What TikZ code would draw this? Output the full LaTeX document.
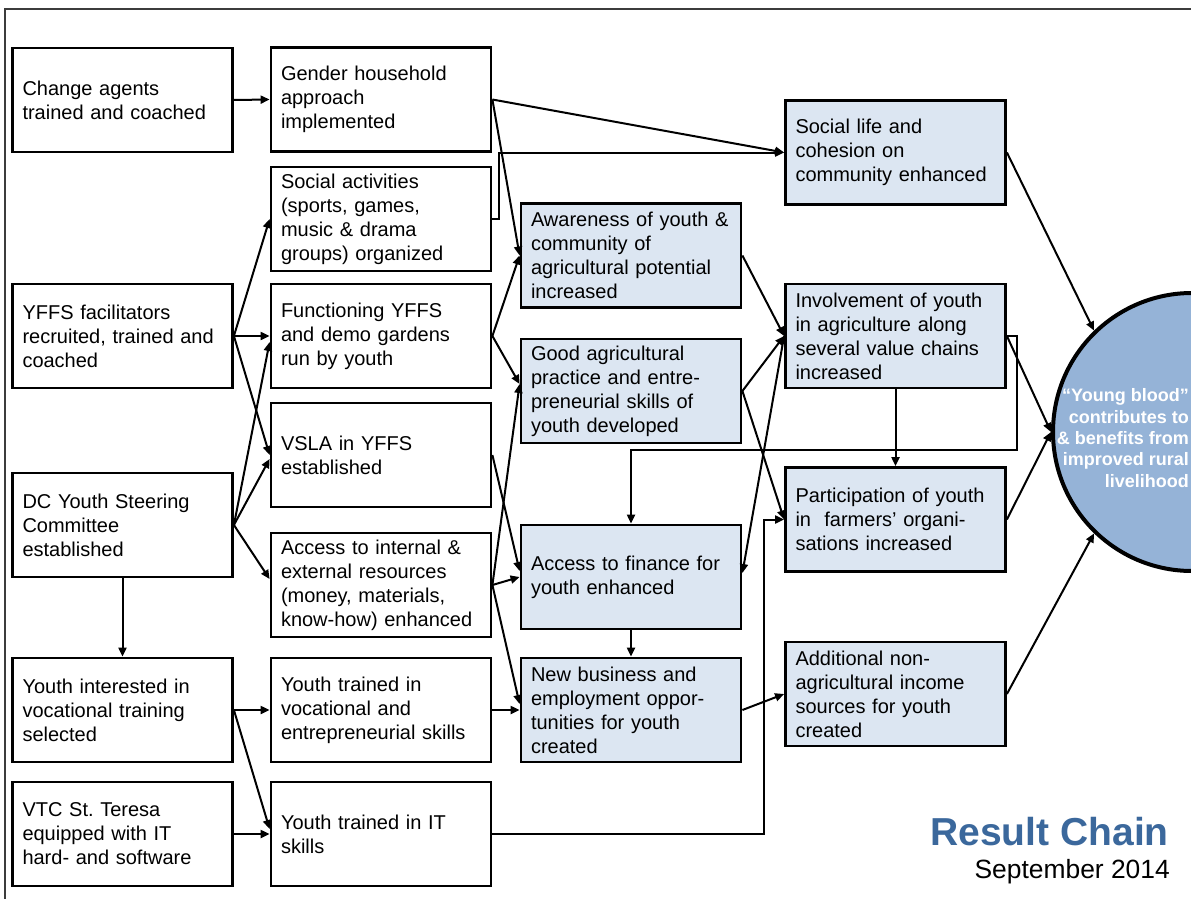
\documentclass[tikz,border=0pt]{standalone}
\usepackage{fontspec}
\setmainfont{Liberation Sans}
\usetikzlibrary{arrows.meta,calc}
\definecolor{boxblue}{HTML}{DCE6F2}
\definecolor{ballblue}{HTML}{95B3D7}
\definecolor{titleblue}{HTML}{3B689C}
\definecolor{framegray}{HTML}{3C3C3C}

\begin{document}
\begin{tikzpicture}[x=1pt,y=-1pt,
  box/.style={draw=black, line width=2.8pt, fill=white, rectangle,
    text width=200pt, inner xsep=10pt, inner ysep=2pt,
    minimum height=104pt, align=left, font=\fontsize{20}{24}\selectfont},
  res/.style={box, fill=boxblue},
  link/.style={line width=2pt, -{Triangle[length=9pt,width=8pt]}},
]
\useasboundingbox (0,0) rectangle (1191,899);

% outer frame
\draw[framegray, line width=1.5pt] (5,899) -- (5,9) -- (1191,9);

% inputs and activities
\node[box] (ca)  at (122.5,100)  {Change agents\\trained and coached};
\node[box] (yf)  at (122.5,336) {YFFS facilitators\\recruited, trained and\\coached};
\node[box] (dc)  at (122.5,525) {DC Youth Steering\\Committee\\established};
\node[box] (yi)  at (122.5,710) {Youth interested in\\vocational training\\selected};
\node[box] (vtc) at (122.5,834) {VTC St.\ Teresa\\equipped with IT\\hard- and software};

\node[box] (gh) at (381,99.5) {Gender household\\approach\\implemented};
\node[box] (sa) at (381,219)  {Social activities\\(sports, games,\\music \& drama\\groups) organized};
\node[box] (fy) at (381,336)  {Functioning YFFS\\and demo gardens\\run by youth};
\node[box] (vs) at (381,455)  {VSLA in YFFS\\established};
\node[box] (ai) at (381,585)  {Access to internal \&\\external resources\\(money, materials,\\know-how) enhanced};
\node[box] (tv) at (381,710)  {Youth trained in\\vocational and\\entrepreneurial skills};
\node[box] (ti) at (381,834)  {Youth trained in IT\\skills};

% results
\node[res] (aw) at (631,255.5) {Awareness of youth~\&\\community of\\agricultural potential\\increased};
\node[res] (ga) at (631,391)   {Good agricultural\\practice and entre-\\preneurial skills of\\youth developed};
\node[res] (af) at (631,577)   {Access to finance for\\youth enhanced};
\node[res] (nb) at (631,710)   {New business and\\employment oppor-\\tunities for youth\\created};

\node[res] (sl)  at (895.5,152.5) {Social life and\\cohesion on\\community enhanced};
\node[res] (inv) at (895.5,336)   {Involvement of youth\\in agriculture along\\several value chains\\increased};
\node[res] (pa)  at (895.5,519.5) {Participation of youth\\in\ \ farmers’ organi-\\sations increased};
\node[res] (ad)  at (895.5,694)   {Additional non-\\agricultural income\\sources for youth\\created};

% impact
\node[circle, draw=black, line width=4pt, fill=ballblue, minimum size=278pt, inner sep=0pt] (yb) at (1192,432) {};
\node[anchor=east, align=right, inner sep=0pt, text=white,
  font=\bfseries\fontsize{18}{21.3}\selectfont] (ybt) at (1189,438)
  {“Young blood”\\contributes to\\\& benefits from\\improved rural\\livelihood};

% title
\node[anchor=base east, inner sep=0pt, text=titleblue,
  font=\bfseries\fontsize{39}{44}\selectfont] (title) at (1169,845) {Result Chain};
\node[anchor=base east, inner sep=0pt,
  font=\fontsize{26.4}{30}\selectfont] (date) at (1170,878) {September 2014};

% connectors
\draw[link] (ca.east) -- (gh.west);
\draw[link] (gh.east) -- (sl.west);
\draw[link] (gh.east) -- (aw.west);
\draw[link] (sa.east) -- ++(7,0) |- (sl.west);
\draw[link] (yf.east) -- (sa.west);
\draw[link] (yf.east) -- (fy.west);
\draw[link] (yf.east) -- (vs.west);
\draw[link] (dc.east) -- ([yshift=-6pt]fy.west);
\draw[link] (dc.east) -- ([yshift=-4pt]vs.west);
\draw[link] (dc.east) -- ([yshift=6pt]ai.west);
\draw[link] (dc.south) -- (yi.north);
\draw[link] (yi.east) -- (tv.west);
\draw[link] (yi.east) -- ([yshift=5pt]ti.west);
\draw[link] (vtc.east) -- (ti.west);
\draw[link] (ti.east) -- ++(272,0) |- (pa.west);

\draw[link] (fy.east) -- (aw.west);
\draw[link] (fy.east) -- ([yshift=7pt]ga.west);
\draw[link] (ai.east) -- ([yshift=7pt]ga.west);
\draw[link] (ai.east) -- (af.west);
\draw[link] (ai.east) -- ([yshift=6pt]nb.west);
\draw[link] (vs.east) -- ([yshift=6pt]af.west);
\draw[link] (tv.east) -- (nb.west);
\draw[link] (af.south) -- (nb.north);

\draw[link] (aw.east) -- (inv.west);
\draw[link] (ga.east) -- (inv.west);
\draw[link] (ga.east) -- (pa.west);
\draw[link] (inv.west) -- ([yshift=4pt]af.east);
\draw[link] (inv.south) -- (pa.north);
\draw[link] (inv.east) -- ++(10,0) -- ++(0,114) -| (af.north);
\draw[link] (nb.east) -- (ad.west);

\draw[link] (sl.east) -- (yb.134);
\draw[link] (inv.east) -- (yb.west);
\draw[link] (pa.east) -- (yb.west);
\draw[link] (ad.east) -- (yb.226);
\end{tikzpicture}
\end{document}
